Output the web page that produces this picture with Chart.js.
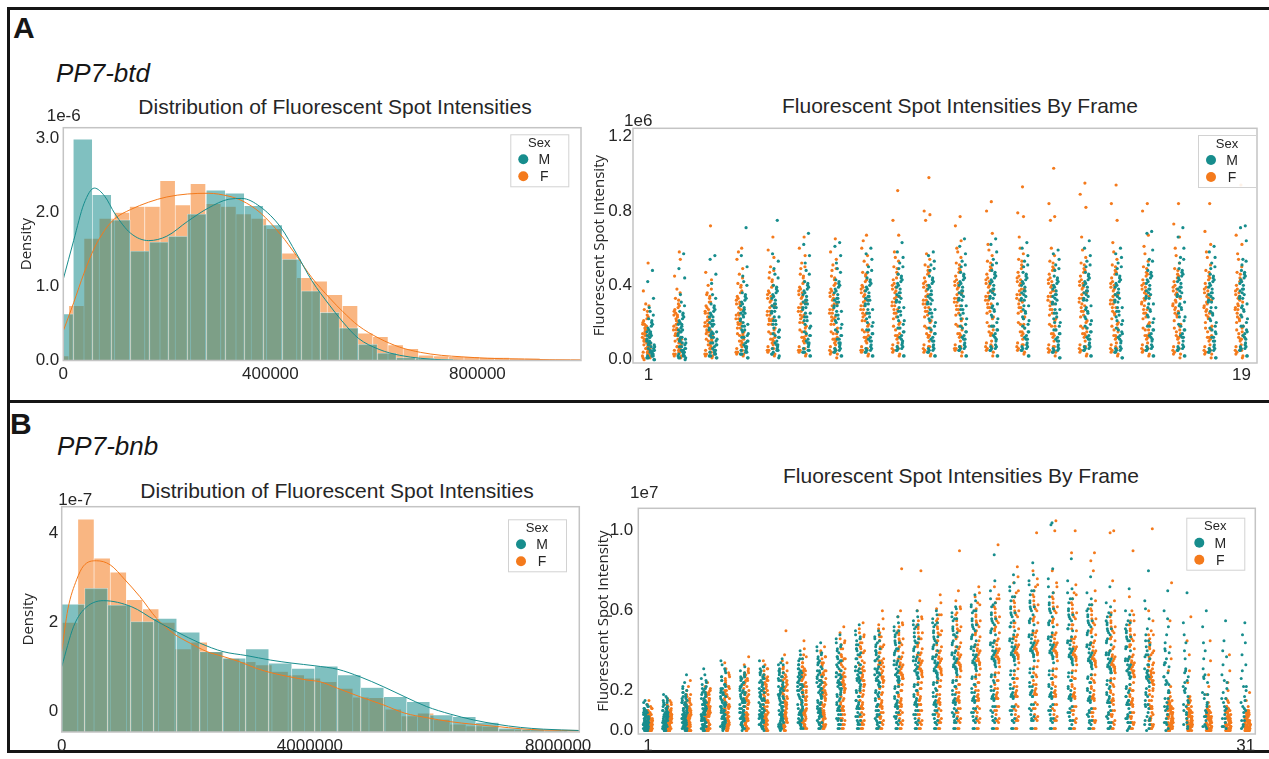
<!DOCTYPE html>
<html>
<head>
<meta charset="utf-8">
<script src="https://cdn.jsdelivr.net/npm/chart.js@4.4.1/dist/chart.umd.min.js"></script>
<style>
  html, body { margin: 0; padding: 0; background: #fff; }
  body { width: 1269px; height: 759px; position: relative; overflow: hidden; font-family: "Liberation Sans", Arial, sans-serif; color: #262626; }
  .rule { position: absolute; background: #161616; }
  .letter { position: absolute; font-weight: bold; font-size: 30px; line-height: 30px; color: #161616; }
  .gene { position: absolute; font-style: italic; font-size: 26px; line-height: 26px; color: #161616; }
  .title { position: absolute; font-size: 21px; white-space: nowrap; transform: translate(-50%, -50%); }
  canvas { position: absolute; }
</style>
</head>
<body>
<div class="rule" style="left:7px;top:7px;width:1262px;height:3px"></div>
<div class="rule" style="left:7px;top:7px;width:3px;height:746px"></div>
<div class="rule" style="left:7px;top:400px;width:1262px;height:3px"></div>
<div class="rule" style="left:7px;top:750px;width:1262px;height:3px"></div>

<div class="letter" style="left:13px;top:13px">A</div>
<div class="gene" style="left:56px;top:60px">PP7-btd</div>
<div class="letter" style="left:10px;top:409px">B</div>
<div class="gene" style="left:57px;top:433px">PP7-bnb</div>

<div class="title" style="left:335px;top:107px">Distribution of Fluorescent Spot Intensities</div>
<div class="title" style="left:960px;top:106px">Fluorescent Spot Intensities By Frame</div>
<div class="title" style="left:337px;top:491px">Distribution of Fluorescent Spot Intensities</div>
<div class="title" style="left:961px;top:476px">Fluorescent Spot Intensities By Frame</div>

<canvas id="btdHist" width="600" height="295" style="left:0;top:95px"></canvas>
<canvas id="btdStrip" width="684" height="295" style="left:585px;top:95px"></canvas>
<canvas id="bnbHist" width="600" height="285" style="left:0;top:475px"></canvas>
<canvas id="bnbStrip" width="684" height="285" style="left:585px;top:475px"></canvas>

<script>
const sexes = ['M', 'F'];
const sexColors = ['#178d8d', '#f47a1c'];
const barColors = ['rgba(23,141,141,0.55)', 'rgba(244,122,28,0.55)'];

// ---- PP7-btd histogram (density x 1e-6), separate bins per sex ----
const btdBinStartM = -17400, btdBinWidthM = 36700;
const btdDensityM = [0.63, 2.99, 2.24, 1.90, 1.48, 1.60, 1.68, 1.98, 2.30, 2.26, 2.09, 1.83, 1.37, 0.94, 0.65, 0.44, 0.22, 0.10, 0.04, 0.03, 0.02];
const btdBinStartF = -18700, btdBinWidthF = 29360;
const btdDensityF = [0.06, 0.74, 1.65, 1.92, 2.00, 2.08, 2.08, 2.43, 2.10, 2.39, 2.12, 2.08, 1.98, 1.92, 1.78, 1.45, 1.12, 1.07, 0.89, 0.74, 0.37, 0.32, 0.21, 0.16, 0.07, 0.06, 0.05, 0.05, 0.04, 0.04, 0.03, 0.03, 0.02, 0.02, 0.02];
const btdKdeX = [0, 20000, 40000, 60000, 80000, 100000, 130000, 165000, 200000, 240000, 280000, 320000, 345000, 380000, 420000, 450000, 480000, 515000, 540000, 570000, 610000, 650000, 690000, 730000, 770000, 820000, 880000, 940000, 1000000];
const btdKdeM = [1.10, 1.62, 2.12, 2.33, 2.22, 1.98, 1.72, 1.62, 1.68, 1.88, 2.06, 2.18, 2.19, 2.08, 1.80, 1.45, 1.08, 0.74, 0.52, 0.30, 0.15, 0.07, 0.03, 0.01, 0, 0, 0, 0, 0];
const btdKdeF = [0.40, 0.78, 1.18, 1.52, 1.76, 1.92, 2.04, 2.14, 2.21, 2.25, 2.26, 2.22, 2.16, 2.00, 1.70, 1.42, 1.12, 0.84, 0.66, 0.47, 0.30, 0.18, 0.11, 0.07, 0.05, 0.03, 0.02, 0.01, 0.005];
const btdHistXTicks = [0, 400000, 800000];
const btdHistYTicks = [0, 1, 2, 3];

// ---- PP7-bnb histogram (density x 1e-7, as labelled) ----
const bnbBinStartM = 0, bnbBinWidthM = 370700;
const bnbDensityM = [2.41, 2.77, 2.39, 2.02, 2.09, 1.78, 1.34, 1.19, 1.40, 1.08, 0.96, 1.01, 0.81, 0.53, 0.32, 0.21, -0.09, -0.13, -0.26, -0.39, -0.41, -0.43];
const bnbBinStartF = 0, bnbBinWidthF = 260600;
const bnbDensityF = [2.00, 4.33, 3.45, 3.13, 2.51, 2.30, 2.00, 1.40, 1.55, 1.34, 1.19, 1.11, 1.04, 0.89, 0.81, 0.74, 0.66, 0.51, 0.31, 0.30, 0.04, -0.11, -0.05, -0.19, -0.30, -0.34, -0.35, -0.41, -0.42, -0.43, -0.44, -0.44];
const bnbKdeMx = [0, 190000, 350000, 670000, 1130000, 1500000, 1850000, 2230000, 2600000, 2980000, 3360000, 3710000, 4080000, 4450000, 4810000, 5180000, 5530000, 5880000, 6260000, 6630000, 7010000, 7390000, 7760000, 8340000];
const bnbKdeM = [1.00, 1.90, 2.28, 2.49, 2.35, 2.05, 1.79, 1.53, 1.34, 1.25, 1.15, 1.08, 1.02, 0.94, 0.77, 0.55, 0.32, 0.10, -0.07, -0.20, -0.30, -0.37, -0.41, -0.44];
const bnbKdeFx = [0, 100000, 240000, 350000, 560000, 780000, 1020000, 1260000, 1530000, 1800000, 2070000, 2340000, 2600000, 2870000, 3140000, 3410000, 3680000, 3950000, 4160000, 4450000, 4810000, 5180000, 5530000, 5880000, 6260000, 6630000, 7010000, 7390000, 7760000, 8340000];
const bnbKdeF = [1.34, 2.30, 2.96, 3.27, 3.39, 3.30, 2.96, 2.58, 2.09, 1.75, 1.53, 1.34, 1.23, 1.11, 0.96, 0.85, 0.77, 0.70, 0.66, 0.51, 0.32, 0.14, -0.05, -0.15, -0.24, -0.30, -0.35, -0.40, -0.43, -0.44];
const bnbHistXTicks = [0, 4000000, 8000000];
const bnbHistYTicks = [0, 2, 4];

// ---- PP7-btd spot intensities per frame (x 1e4) ----
const btdStripF = [
  [12, 4, 27, 8, 18, 1, 52, 15, 6, 22, 10, 3, 30, 14, 7, 19, 2, 11, 37, 5, 16, 9, 24, 0, 13, 6, 20, 3, 17, 8, 9, 21, 5, 14, 2, 26, 11, 7, 18, 4, 23, 13, 1, 16, 8, 29, 6, 19, 3, 10],
  [16, 5, 33, 10, 24, 2, 58, 19, 8, 28, 13, 4, 38, 18, 9, 25, 1, 14, 45, 6, 21, 11, 30, 3, 54, 7, 26, 15, 22, 12, 11, 27, 6, 17, 3, 32, 14, 9, 23, 5, 29, 16, 2, 20, 10, 36, 7, 24, 4, 13],
  [18, 6, 35, 11, 27, 2, 72, 21, 9, 31, 14, 4, 40, 20, 8, 28, 1, 15, 47, 6, 23, 12, 33, 3, 43, 10, 25, 16, 36, 13, 13, 29, 7, 19, 3, 34, 16, 10, 25, 5, 31, 18, 2, 22, 11, 38, 8, 26, 4, 15],
  [22, 8, 41, 14, 31, 3, 60, 25, 11, 36, 17, 5, 46, 24, 10, 33, 2, 19, 54, 7, 28, 15, 39, 4, 49, 13, 30, 20, 58, 27, 17, 34, 9, 24, 4, 40, 20, 13, 30, 6, 37, 22, 3, 27, 14, 44, 10, 32, 5, 19],
  [24, 9, 44, 16, 34, 4, 66, 28, 12, 39, 19, 6, 50, 26, 11, 36, 2, 21, 59, 8, 31, 17, 42, 5, 55, 14, 33, 22, 47, 29, 19, 37, 10, 26, 5, 43, 22, 14, 32, 7, 40, 24, 3, 29, 15, 48, 11, 35, 6, 21],
  [26, 10, 46, 17, 36, 4, 66, 30, 13, 41, 20, 6, 52, 28, 12, 38, 2, 23, 60, 9, 33, 18, 44, 5, 56, 15, 35, 24, 49, 31, 20, 39, 11, 28, 5, 45, 24, 15, 34, 7, 42, 26, 3, 31, 16, 50, 12, 37, 6, 22],
  [25, 9, 45, 16, 35, 3, 65, 29, 12, 40, 19, 5, 51, 27, 11, 37, 1, 22, 58, 8, 32, 17, 43, 4, 54, 14, 34, 23, 48, 30, 19, 38, 10, 27, 5, 44, 23, 14, 33, 7, 41, 25, 3, 30, 15, 49, 11, 36, 6, 21],
  [27, 10, 47, 18, 37, 4, 67, 31, 13, 42, 21, 6, 53, 29, 12, 39, 2, 24, 60, 9, 34, 19, 45, 5, 56, 15, 36, 25, 64, 32, 21, 40, 11, 29, 5, 46, 25, 15, 35, 7, 43, 27, 3, 32, 16, 51, 12, 38, 6, 23],
  [29, 11, 50, 19, 39, 4, 91, 33, 14, 44, 22, 6, 55, 31, 13, 41, 2, 25, 75, 9, 36, 20, 47, 5, 67, 16, 38, 27, 58, 34, 23, 43, 12, 31, 6, 49, 27, 17, 37, 8, 46, 29, 3, 34, 18, 53, 13, 40, 7, 25],
  [30, 12, 51, 20, 40, 4, 98, 34, 15, 46, 23, 7, 57, 32, 13, 42, 2, 26, 80, 10, 37, 21, 48, 5, 78, 17, 39, 28, 75, 35, 24, 44, 13, 32, 6, 50, 28, 17, 38, 8, 47, 30, 3, 35, 18, 54, 14, 41, 7, 26],
  [31, 12, 52, 21, 41, 5, 77, 35, 16, 47, 24, 7, 58, 33, 14, 43, 2, 27, 72, 10, 38, 22, 49, 6, 64, 18, 40, 29, 60, 36, 25, 45, 13, 33, 6, 51, 29, 18, 39, 8, 48, 31, 4, 36, 19, 55, 14, 42, 7, 27],
  [32, 13, 53, 22, 42, 5, 85, 36, 16, 48, 25, 7, 59, 34, 14, 44, 2, 28, 80, 10, 39, 23, 50, 6, 68, 18, 41, 30, 62, 37, 26, 46, 14, 34, 7, 52, 30, 18, 40, 9, 49, 32, 4, 37, 20, 56, 15, 43, 8, 28],
  [33, 13, 54, 22, 43, 5, 93, 37, 17, 49, 25, 8, 60, 35, 15, 45, 3, 28, 79, 11, 40, 23, 51, 6, 77, 19, 42, 31, 66, 38, 26, 47, 14, 35, 7, 53, 30, 19, 41, 9, 50, 32, 4, 38, 20, 57, 15, 44, 8, 28],
  [32, 12, 53, 21, 42, 4, 103, 36, 16, 48, 24, 7, 60, 34, 14, 44, 2, 27, 84, 10, 39, 22, 50, 5, 77, 18, 41, 30, 75, 37, 25, 46, 13, 34, 6, 52, 29, 18, 40, 8, 49, 31, 4, 37, 19, 56, 14, 43, 7, 27],
  [31, 12, 52, 20, 41, 4, 95, 35, 15, 47, 23, 7, 59, 33, 14, 43, 2, 26, 89, 10, 38, 21, 49, 5, 82, 17, 40, 29, 66, 36, 24, 45, 13, 33, 6, 51, 28, 17, 39, 8, 48, 30, 3, 36, 18, 55, 14, 42, 7, 26],
  [30, 11, 51, 19, 40, 4, 94, 34, 15, 46, 22, 6, 58, 32, 13, 42, 2, 25, 84, 9, 37, 20, 48, 5, 75, 16, 39, 28, 63, 35, 24, 44, 12, 32, 6, 50, 28, 17, 38, 8, 47, 30, 3, 35, 18, 54, 13, 41, 7, 26],
  [30, 11, 50, 19, 39, 4, 84, 33, 14, 45, 22, 6, 57, 31, 13, 41, 2, 25, 80, 9, 36, 20, 47, 5, 67, 16, 38, 27, 61, 34, 23, 43, 12, 32, 6, 49, 27, 16, 37, 8, 46, 29, 3, 35, 17, 53, 13, 40, 7, 25],
  [29, 11, 49, 18, 38, 3, 84, 32, 14, 44, 21, 6, 56, 30, 12, 40, 1, 24, 73, 9, 35, 19, 46, 4, 66, 15, 37, 26, 60, 33, 23, 42, 12, 31, 5, 48, 27, 16, 36, 7, 45, 28, 3, 34, 17, 52, 13, 39, 6, 25],
  [28, 10, 48, 17, 37, 3, 84, 31, 13, 43, 20, 5, 55, 29, 12, 39, 1, 23, 69, 8, 34, 18, 45, 4, 62, 15, 36, 25, 58, 32, 22, 41, 11, 30, 5, 47, 26, 16, 35, 7, 44, 27, 3, 33, 17, 51, 12, 38, 6, 24],
  [27, 10, 47, 17, 36, 3, 94, 30, 13, 42, 20, 5, 54, 28, 11, 38, 1, 22, 67, 8, 33, 18, 44, 4, 62, 14, 35, 24, 57, 31, 21, 40, 11, 29, 5, 46, 25, 15, 34, 7, 43, 27, 2, 32, 16, 50, 12, 37, 6, 23]
];
const btdStripM = [
  [10, 3, 22, 6, 15, 1, 48, 12, 5, 18, 8, 2, 26, 11, 4, 16, 0, 9, 42, 3, 14, 7, 20, 1, 33, 5, 13, 2, 28, 8, 7, 17, 3, 12, 1, 21, 9, 5, 14, 2, 19, 10, 0, 13, 6, 24, 4, 15, 2, 8],
  [13, 4, 26, 8, 19, 1, 57, 15, 6, 22, 10, 2, 31, 14, 5, 20, 0, 12, 49, 4, 17, 9, 24, 1, 44, 7, 16, 3, 35, 11, 9, 21, 4, 15, 2, 25, 11, 6, 18, 3, 23, 12, 1, 16, 7, 29, 5, 19, 2, 10],
  [16, 5, 30, 10, 23, 2, 56, 19, 8, 26, 13, 3, 35, 17, 7, 24, 1, 14, 54, 5, 21, 11, 28, 2, 46, 9, 20, 4, 41, 15, 12, 25, 5, 18, 2, 29, 14, 8, 21, 4, 27, 15, 1, 19, 9, 33, 6, 23, 3, 12],
  [21, 7, 36, 13, 28, 3, 71, 24, 10, 32, 16, 4, 42, 22, 9, 30, 1, 18, 56, 6, 26, 14, 34, 3, 50, 12, 25, 5, 45, 19, 16, 31, 7, 23, 3, 35, 18, 10, 27, 5, 33, 20, 1, 25, 12, 40, 8, 29, 4, 15],
  [25, 8, 40, 15, 32, 3, 75, 28, 12, 36, 19, 5, 46, 26, 10, 34, 1, 21, 57, 7, 30, 16, 38, 4, 53, 13, 29, 6, 49, 23, 19, 35, 8, 26, 3, 39, 21, 12, 30, 6, 37, 23, 2, 28, 14, 44, 9, 33, 5, 17],
  [27, 9, 42, 17, 34, 4, 68, 30, 13, 38, 21, 5, 48, 28, 11, 36, 2, 23, 62, 8, 32, 18, 40, 4, 56, 14, 31, 7, 52, 25, 21, 37, 9, 28, 4, 41, 23, 13, 32, 6, 39, 25, 2, 30, 15, 46, 10, 35, 5, 19],
  [28, 9, 43, 17, 35, 4, 63, 31, 13, 39, 21, 6, 49, 29, 11, 37, 2, 24, 61, 8, 33, 19, 41, 5, 56, 15, 32, 7, 52, 26, 22, 38, 9, 29, 4, 42, 24, 13, 33, 6, 40, 26, 2, 31, 16, 47, 11, 36, 5, 20],
  [29, 10, 44, 18, 36, 4, 60, 32, 14, 40, 22, 6, 50, 30, 12, 38, 2, 25, 57, 8, 34, 20, 42, 5, 54, 16, 33, 7, 47, 27, 23, 39, 10, 30, 4, 43, 25, 14, 34, 6, 41, 27, 2, 32, 16, 48, 11, 37, 5, 20],
  [31, 11, 46, 19, 38, 5, 63, 34, 15, 42, 23, 7, 52, 32, 13, 40, 2, 26, 58, 9, 36, 21, 44, 6, 55, 17, 35, 8, 49, 28, 24, 41, 10, 31, 5, 45, 26, 15, 36, 7, 43, 28, 2, 33, 17, 50, 12, 39, 6, 21],
  [30, 10, 45, 18, 37, 4, 58, 33, 14, 41, 22, 6, 51, 31, 12, 39, 2, 25, 56, 8, 35, 20, 43, 5, 53, 16, 34, 7, 48, 27, 23, 40, 10, 30, 4, 44, 25, 14, 35, 6, 42, 27, 2, 32, 17, 49, 11, 38, 5, 21],
  [32, 11, 47, 19, 39, 5, 65, 35, 15, 43, 24, 7, 53, 33, 13, 41, 2, 27, 61, 9, 37, 22, 45, 6, 57, 17, 36, 8, 50, 29, 25, 42, 11, 32, 5, 46, 27, 15, 37, 7, 44, 29, 2, 34, 18, 51, 12, 40, 6, 22],
  [33, 12, 48, 20, 40, 5, 65, 36, 16, 44, 24, 7, 54, 34, 14, 42, 2, 27, 62, 10, 38, 22, 46, 6, 58, 18, 37, 8, 51, 30, 26, 43, 11, 33, 5, 47, 28, 16, 38, 7, 45, 29, 2, 35, 18, 52, 13, 41, 6, 23],
  [32, 11, 47, 19, 39, 5, 63, 35, 15, 43, 23, 7, 53, 33, 13, 41, 2, 26, 60, 9, 37, 21, 45, 6, 56, 17, 36, 8, 50, 29, 25, 42, 11, 32, 5, 46, 27, 15, 37, 7, 44, 29, 2, 34, 18, 51, 12, 40, 6, 22],
  [30, 10, 45, 18, 37, 4, 59, 33, 14, 41, 22, 6, 51, 31, 12, 39, 1, 25, 57, 8, 35, 20, 43, 5, 54, 16, 34, 7, 48, 27, 23, 40, 10, 30, 4, 44, 25, 14, 35, 6, 42, 27, 1, 32, 16, 49, 11, 38, 5, 20],
  [32, 11, 47, 19, 39, 5, 64, 35, 15, 43, 23, 7, 53, 33, 13, 41, 2, 26, 60, 9, 37, 21, 45, 6, 56, 17, 36, 8, 50, 29, 25, 42, 11, 32, 5, 46, 27, 15, 37, 7, 44, 28, 2, 34, 18, 51, 12, 40, 6, 22],
  [31, 11, 46, 19, 38, 4, 60, 34, 14, 42, 23, 6, 52, 32, 13, 40, 1, 26, 57, 9, 36, 21, 44, 5, 55, 16, 35, 7, 49, 28, 24, 41, 10, 31, 4, 45, 26, 15, 36, 6, 43, 28, 1, 33, 17, 50, 12, 39, 5, 21],
  [33, 12, 48, 20, 40, 5, 69, 36, 16, 44, 24, 7, 54, 34, 14, 42, 2, 27, 68, 10, 38, 22, 46, 6, 59, 18, 37, 8, 51, 30, 26, 43, 11, 33, 5, 47, 28, 16, 38, 7, 45, 30, 2, 35, 18, 53, 13, 41, 6, 23],
  [34, 12, 49, 21, 41, 5, 71, 37, 16, 45, 25, 7, 55, 35, 14, 43, 2, 28, 66, 10, 39, 23, 47, 6, 60, 18, 38, 8, 52, 31, 27, 44, 12, 34, 5, 48, 29, 16, 39, 7, 46, 30, 2, 36, 19, 54, 13, 42, 6, 23],
  [31, 10, 46, 18, 38, 4, 61, 34, 14, 42, 22, 6, 52, 32, 12, 40, 1, 25, 58, 8, 36, 20, 44, 5, 55, 16, 35, 7, 49, 28, 24, 41, 10, 31, 4, 45, 26, 15, 36, 6, 43, 28, 1, 33, 17, 50, 12, 39, 5, 21],
  [33, 12, 48, 20, 40, 5, 72, 36, 15, 44, 24, 7, 54, 34, 14, 42, 2, 27, 71, 9, 38, 22, 46, 6, 64, 18, 37, 8, 51, 30, 26, 43, 11, 33, 5, 47, 28, 16, 38, 7, 45, 29, 2, 35, 18, 53, 13, 41, 6, 23]
];
const btdFrameLabels = { 0: '1', 19: '19' };
const btdStripYTicks = [0, 400000, 800000, 1200000];

// ---- PP7-bnb spot intensities per frame (x 1e5) ----
const bnbStripM = [
  [3, 7, 1, 12, 5, 9, 2, 15, 6, 4, 10, 0, 8, 3, 13, 5, 1, 7, 11, 2, 6, 4, 9, 0, 3, 8, 14, 1, 5, 2, 10, 6, 4, 7, 1, 3, 2, 5, 0, 9, 4, 1, 7, 3, 11, 6, 0, 8, 2, 5, 12, 1, 4, 9, 3, 6, 0, 10, 2, 7],
  [4, 11, 2, 16, 7, 1, 9, 13, 5, 3, 18, 6, 0, 10, 8, 2, 12, 4, 15, 6, 1, 9, 3, 7, 14, 5, 2, 11, 0, 8, 4, 6, 10, 3, 1, 17, 3, 7, 1, 12, 5, 0, 9, 4, 14, 6, 2, 10, 3, 8, 15, 1, 5, 11, 4, 7, 0, 13, 2, 9],
  [6, 14, 2, 28, 9, 4, 18, 11, 1, 7, 22, 13, 3, 16, 5, 10, 0, 24, 8, 12, 2, 15, 6, 19, 4, 9, 1, 17, 7, 11, 3, 21, 5, 8, 14, 2, 4, 10, 1, 15, 7, 2, 12, 5, 19, 8, 3, 14, 4, 11, 20, 1, 6, 16, 5, 9, 0, 17, 3, 13],
  [8, 3, 19, 12, 31, 5, 15, 1, 22, 10, 6, 17, 2, 26, 9, 13, 4, 20, 7, 11, 0, 24, 14, 3, 18, 8, 5, 28, 11, 2, 16, 6, 21, 9, 1, 13, 5, 12, 1, 18, 8, 2, 14, 6, 23, 10, 3, 16, 5, 13, 25, 2, 7, 19, 6, 11, 0, 21, 4, 15],
  [12, 4, 27, 8, 19, 35, 2, 15, 22, 6, 10, 31, 1, 17, 13, 25, 5, 9, 20, 3, 14, 29, 7, 11, 23, 0, 16, 8, 33, 4, 18, 12, 6, 21, 2, 10, 6, 14, 2, 21, 10, 3, 17, 7, 27, 12, 4, 19, 6, 15, 30, 2, 9, 23, 7, 13, 1, 25, 5, 18],
  [9, 20, 3, 28, 14, 6, 24, 11, 32, 2, 17, 8, 26, 13, 5, 22, 1, 15, 30, 10, 4, 19, 7, 25, 12, 0, 21, 16, 3, 27, 9, 18, 6, 23, 11, 14, 6, 15, 2, 22, 10, 3, 18, 8, 27, 12, 4, 20, 6, 16, 29, 2, 9, 24, 7, 14, 1, 26, 5, 19],
  [14, 5, 29, 21, 9, 35, 2, 18, 26, 11, 7, 32, 16, 3, 23, 12, 28, 6, 19, 1, 25, 10, 15, 31, 4, 20, 8, 27, 13, 0, 22, 17, 9, 30, 6, 24, 7, 16, 2, 24, 11, 3, 19, 8, 29, 13, 4, 21, 7, 17, 32, 2, 10, 26, 8, 15, 1, 28, 5, 20],
  [18, 7, 31, 12, 25, 3, 36, 15, 22, 9, 28, 5, 19, 33, 11, 1, 24, 14, 30, 8, 20, 4, 27, 16, 10, 34, 2, 21, 13, 29, 6, 17, 23, 0, 26, 12, 8, 17, 2, 25, 12, 4, 20, 9, 30, 14, 5, 22, 7, 18, 33, 3, 10, 27, 8, 16, 1, 29, 6, 21],
  [20, 9, 33, 14, 40, 4, 27, 17, 11, 30, 6, 23, 36, 13, 2, 25, 19, 8, 31, 15, 28, 1, 21, 35, 10, 16, 24, 5, 29, 12, 38, 18, 7, 26, 22, 3, 8, 19, 3, 27, 13, 4, 22, 10, 33, 15, 5, 24, 8, 20, 36, 3, 11, 29, 9, 17, 1, 31, 6, 23],
  [24, 10, 37, 16, 30, 5, 44, 19, 27, 13, 33, 2, 22, 40, 8, 28, 17, 35, 11, 25, 1, 31, 20, 14, 38, 7, 26, 18, 34, 4, 29, 15, 21, 9, 42, 23, 9, 21, 3, 30, 14, 4, 24, 11, 36, 17, 6, 27, 9, 22, 39, 3, 12, 32, 10, 19, 1, 34, 7, 25],
  [27, 12, 41, 19, 34, 6, 48, 22, 30, 15, 37, 3, 25, 44, 10, 32, 20, 39, 13, 28, 1, 35, 23, 17, 42, 8, 29, 21, 36, 5, 31, 18, 26, 11, 46, 24, 10, 23, 3, 33, 16, 5, 27, 12, 40, 18, 6, 29, 10, 24, 43, 3, 14, 35, 11, 21, 1, 37, 8, 28],
  [30, 14, 45, 21, 38, 7, 53, 25, 33, 17, 41, 3, 28, 48, 11, 36, 22, 43, 15, 31, 1, 39, 26, 19, 46, 9, 32, 24, 40, 5, 34, 20, 29, 12, 50, 27, 11, 25, 3, 36, 17, 5, 29, 13, 43, 20, 7, 32, 11, 26, 47, 4, 15, 38, 12, 23, 1, 41, 8, 30],
  [28, 13, 43, 22, 36, 6, 50, 26, 34, 18, 40, 2, 30, 46, 10, 38, 24, 44, 16, 32, 1, 41, 27, 20, 48, 8, 35, 23, 39, 4, 31, 19, 29, 12, 47, 25, 10, 24, 3, 35, 17, 5, 28, 13, 42, 19, 7, 31, 10, 25, 45, 4, 15, 37, 12, 22, 1, 40, 8, 29],
  [33, 15, 48, 24, 41, 7, 57, 28, 37, 19, 45, 3, 31, 52, 11, 40, 26, 49, 17, 35, 1, 44, 29, 22, 54, 9, 38, 25, 43, 5, 34, 21, 30, 13, 50, 27, 12, 27, 4, 39, 19, 6, 32, 14, 47, 22, 7, 35, 12, 28, 50, 4, 16, 41, 13, 25, 1, 44, 9, 33],
  [35, 16, 51, 26, 44, 8, 60, 30, 39, 20, 47, 3, 33, 55, 12, 42, 27, 52, 18, 37, 1, 46, 31, 23, 57, 10, 40, 28, 45, 5, 36, 22, 32, 14, 53, 29, 13, 29, 4, 41, 20, 6, 34, 15, 49, 23, 8, 37, 13, 30, 53, 4, 17, 44, 14, 26, 1, 47, 10, 35],
  [36, 17, 52, 27, 45, 8, 60, 31, 40, 21, 49, 3, 34, 56, 12, 43, 28, 53, 19, 38, 1, 47, 32, 24, 58, 10, 41, 29, 46, 5, 37, 23, 33, 14, 54, 30, 13, 29, 4, 42, 20, 6, 34, 15, 50, 24, 8, 37, 13, 30, 54, 4, 17, 44, 14, 26, 1, 47, 10, 35],
  [38, 18, 55, 29, 48, 9, 62, 33, 42, 22, 51, 4, 36, 59, 13, 45, 30, 56, 20, 40, 1, 49, 34, 25, 61, 11, 43, 31, 48, 6, 39, 24, 35, 15, 57, 32, 14, 31, 4, 44, 22, 7, 36, 16, 52, 25, 8, 39, 14, 32, 56, 5, 18, 47, 15, 28, 1, 50, 10, 37],
  [41, 19, 59, 31, 51, 9, 68, 35, 45, 23, 55, 4, 38, 63, 14, 48, 32, 60, 21, 43, 1, 53, 36, 27, 65, 11, 46, 33, 52, 6, 42, 26, 37, 16, 62, 34, 15, 33, 5, 47, 23, 7, 38, 17, 56, 27, 9, 42, 15, 34, 60, 5, 19, 50, 16, 30, 1, 53, 11, 40],
  [43, 20, 62, 33, 54, 10, 88, 37, 48, 25, 58, 4, 40, 66, 15, 51, 34, 63, 22, 45, 1, 56, 38, 28, 75, 12, 49, 35, 55, 6, 44, 27, 39, 17, 70, 36, 16, 35, 5, 50, 24, 7, 40, 18, 59, 28, 9, 44, 16, 36, 64, 5, 20, 53, 17, 32, 1, 56, 12, 42],
  [45, 21, 65, 35, 57, 10, 78, 39, 50, 26, 61, 4, 42, 70, 16, 54, 36, 67, 23, 48, 1, 59, 40, 30, 74, 12, 52, 37, 58, 6, 46, 28, 41, 18, 72, 38, 17, 37, 5, 52, 26, 8, 42, 19, 62, 30, 10, 46, 17, 38, 67, 5, 21, 55, 18, 33, 1, 59, 12, 44],
  [47, 22, 68, 37, 60, 11, 84, 41, 53, 27, 64, 5, 44, 73, 17, 56, 38, 70, 24, 50, 1, 62, 42, 31, 78, 13, 55, 39, 61, 7, 48, 29, 43, 19, 75, 40, 18, 38, 5, 54, 27, 8, 44, 20, 65, 31, 10, 48, 17, 40, 70, 6, 22, 58, 19, 35, 1, 62, 13, 46],
  [46, 21, 67, 36, 59, 10, 104, 40, 52, 26, 63, 4, 43, 72, 16, 55, 37, 103, 23, 49, 1, 61, 41, 30, 81, 12, 54, 38, 60, 6, 47, 28, 42, 18, 76, 39, 17, 37, 5, 53, 26, 8, 43, 19, 64, 30, 10, 47, 17, 39, 69, 6, 22, 57, 18, 34, 1, 61, 13, 45],
  [44, 20, 64, 34, 56, 9, 86, 38, 50, 25, 60, 3, 41, 75, 15, 53, 35, 66, 22, 47, 1, 58, 39, 29, 71, 11, 51, 36, 57, 5, 45, 27, 40, 17, 69, 37, 16, 36, 5, 51, 25, 7, 41, 18, 61, 29, 9, 45, 16, 37, 66, 5, 21, 55, 17, 33, 1, 58, 12, 43],
  [42, 19, 61, 32, 53, 8, 77, 36, 47, 24, 57, 3, 39, 69, 14, 50, 33, 63, 21, 44, 1, 55, 37, 27, 66, 10, 48, 34, 54, 5, 43, 26, 38, 16, 60, 35, 15, 34, 4, 49, 24, 7, 39, 17, 58, 28, 9, 43, 15, 35, 63, 5, 20, 52, 16, 31, 1, 55, 11, 41],
  [38, 17, 57, 29, 49, 7, 72, 33, 43, 21, 53, 2, 36, 64, 12, 46, 30, 59, 19, 40, 1, 51, 34, 25, 62, 9, 44, 31, 50, 4, 39, 23, 35, 14, 55, 32, 14, 31, 4, 45, 22, 6, 36, 16, 54, 25, 8, 39, 14, 32, 58, 4, 18, 48, 15, 29, 1, 51, 10, 38],
  [35, 15, 53, 26, 45, 6, 71, 30, 40, 19, 49, 2, 33, 60, 11, 42, 27, 55, 17, 37, 0, 47, 31, 22, 58, 8, 41, 28, 46, 4, 36, 21, 32, 13, 51, 29, 13, 29, 4, 42, 20, 6, 33, 15, 50, 23, 7, 36, 13, 30, 54, 4, 17, 45, 14, 27, 1, 47, 9, 35],
  [31, 13, 48, 22, 40, 5, 80, 27, 36, 17, 45, 1, 29, 65, 9, 38, 24, 51, 15, 33, 0, 43, 28, 19, 56, 7, 37, 25, 42, 3, 30, 61, 11, 26, 3, 38, 18, 5, 30, 13, 45, 21, 6, 33, 12, 27],
  [27, 11, 44, 19, 36, 4, 70, 23, 32, 14, 41, 1, 25, 60, 8, 34, 20, 48, 12, 29, 0, 39, 24, 16, 52, 6, 33, 56, 10, 23, 3, 34, 16, 4, 27, 12, 40, 19],
  [22, 9, 40, 15, 31, 3, 69, 19, 27, 12, 48, 1, 21, 54, 6, 29, 17, 44, 10, 25, 36, 14, 8, 20, 2, 30, 13, 4, 24],
  [19, 7, 36, 13, 28, 2, 60, 16, 24, 10, 44, 1, 18, 52, 5, 26, 14, 40, 31, 9, 7, 18, 2, 27, 12, 3],
  [16, 6, 33, 11, 25, 2, 55, 14, 21, 8, 40, 1, 45, 28, 4, 19, 37, 12, 6, 16, 2, 24, 10],
  [14, 5, 30, 10, 22, 1, 54, 12, 20, 7, 38, 44, 3, 26, 17, 48, 33, 9, 5, 15, 2, 22, 11]
];
const bnbStripF = [
  [2, 6, 0, 11, 4, 8, 1, 15, 5, 3, 9, 0, 7, 2, 12, 4, 1, 6, 10, 2, 5, 3, 8, 0, 2, 7, 13, 1, 4, 1, 9, 5, 3, 6, 0, 2, 1, 4, 0, 8, 3, 1, 6, 2, 10, 5, 0, 7, 1, 4, 11, 0, 3, 8, 2, 5, 0, 9, 1, 6],
  [3, 9, 1, 14, 6, 0, 8, 12, 4, 2, 16, 5, 0, 9, 7, 1, 11, 3, 13, 5, 0, 8, 2, 6, 10, 4, 1, 10, 0, 7, 3, 5, 9, 2, 1, 15, 2, 6, 0, 10, 4, 0, 8, 3, 12, 5, 1, 9, 2, 7, 13, 0, 4, 10, 3, 6, 0, 11, 1, 8],
  [5, 12, 1, 25, 8, 3, 16, 10, 0, 6, 20, 11, 2, 14, 4, 9, 0, 22, 7, 10, 1, 13, 5, 17, 3, 8, 0, 15, 6, 9, 2, 18, 4, 7, 12, 1, 3, 8, 0, 13, 6, 1, 10, 4, 17, 7, 2, 12, 3, 9, 18, 0, 5, 14, 4, 8, 0, 15, 2, 11],
  [7, 2, 17, 11, 24, 4, 14, 0, 20, 9, 5, 15, 1, 22, 8, 12, 3, 18, 6, 10, 0, 21, 13, 2, 16, 7, 4, 19, 10, 1, 14, 5, 18, 8, 0, 12, 4, 10, 0, 15, 7, 1, 12, 5, 19, 8, 2, 13, 4, 11, 20, 1, 6, 16, 5, 9, 0, 17, 3, 12],
  [11, 3, 25, 7, 18, 34, 1, 14, 21, 5, 9, 29, 0, 16, 12, 23, 4, 8, 19, 2, 13, 27, 6, 10, 22, 0, 15, 7, 31, 3, 17, 11, 5, 20, 1, 9, 5, 13, 1, 20, 9, 2, 16, 6, 26, 11, 3, 18, 5, 14, 28, 1, 8, 22, 6, 12, 0, 24, 4, 17],
  [10, 22, 3, 30, 15, 6, 26, 12, 37, 2, 18, 8, 28, 14, 5, 24, 1, 16, 33, 11, 4, 20, 7, 27, 13, 0, 23, 17, 3, 29, 9, 19, 6, 25, 12, 15, 6, 15, 1, 23, 11, 3, 18, 8, 29, 13, 4, 21, 6, 16, 31, 2, 9, 25, 7, 14, 0, 27, 5, 19],
  [13, 4, 28, 20, 8, 35, 1, 17, 25, 10, 6, 31, 15, 2, 22, 11, 27, 5, 18, 0, 24, 9, 14, 30, 3, 19, 7, 26, 12, 0, 21, 16, 8, 33, 5, 23, 6, 15, 1, 23, 10, 3, 18, 7, 28, 12, 4, 20, 6, 16, 31, 2, 9, 25, 7, 14, 0, 27, 5, 19],
  [19, 8, 32, 13, 26, 3, 50, 16, 23, 10, 29, 5, 20, 35, 12, 1, 25, 15, 31, 9, 21, 4, 28, 17, 11, 38, 2, 22, 14, 30, 6, 18, 24, 0, 27, 13, 7, 17, 2, 25, 12, 3, 20, 9, 31, 14, 4, 22, 7, 18, 34, 2, 10, 27, 8, 16, 0, 29, 6, 21],
  [21, 9, 34, 15, 45, 4, 28, 18, 11, 31, 6, 24, 38, 14, 2, 26, 20, 8, 32, 16, 29, 1, 22, 36, 10, 17, 25, 5, 30, 13, 41, 19, 7, 27, 23, 3, 8, 19, 2, 28, 13, 4, 22, 10, 34, 15, 5, 25, 8, 20, 37, 3, 11, 30, 9, 17, 1, 32, 6, 23],
  [23, 9, 36, 15, 29, 4, 42, 18, 26, 12, 32, 2, 21, 39, 7, 27, 16, 34, 10, 24, 1, 30, 19, 13, 37, 6, 25, 17, 33, 3, 28, 14, 20, 8, 40, 22, 8, 19, 2, 28, 13, 4, 23, 10, 34, 16, 5, 25, 8, 20, 37, 3, 11, 30, 9, 18, 1, 32, 6, 24],
  [28, 12, 43, 20, 35, 6, 52, 23, 31, 15, 38, 3, 26, 46, 10, 33, 21, 41, 13, 29, 1, 36, 24, 17, 44, 8, 30, 22, 37, 5, 32, 18, 27, 11, 49, 25, 10, 23, 3, 34, 16, 5, 27, 12, 41, 19, 6, 30, 10, 24, 45, 3, 14, 36, 11, 21, 1, 38, 8, 28],
  [31, 14, 46, 22, 39, 7, 54, 26, 34, 17, 42, 3, 29, 49, 11, 37, 23, 44, 15, 32, 1, 40, 27, 19, 47, 9, 33, 25, 41, 5, 35, 20, 30, 12, 51, 28, 11, 25, 3, 37, 18, 5, 30, 13, 44, 20, 7, 33, 11, 26, 48, 4, 15, 39, 12, 23, 1, 42, 8, 31],
  [33, 15, 49, 24, 41, 7, 60, 28, 36, 18, 45, 3, 31, 53, 11, 39, 25, 47, 16, 34, 1, 43, 29, 21, 56, 9, 37, 26, 42, 5, 35, 22, 30, 13, 51, 27, 12, 27, 4, 39, 19, 6, 32, 14, 47, 22, 7, 35, 12, 28, 51, 4, 16, 42, 13, 25, 1, 45, 9, 33],
  [35, 16, 52, 26, 44, 8, 81, 30, 39, 20, 48, 3, 33, 57, 12, 42, 27, 60, 18, 37, 1, 46, 31, 23, 54, 10, 40, 28, 45, 5, 36, 22, 32, 14, 50, 29, 12, 28, 4, 41, 20, 6, 33, 15, 49, 23, 8, 36, 13, 29, 53, 4, 17, 43, 14, 26, 1, 46, 9, 34],
  [37, 17, 55, 28, 46, 8, 80, 32, 41, 21, 51, 3, 35, 60, 13, 44, 29, 65, 19, 39, 1, 49, 33, 24, 57, 10, 42, 30, 47, 5, 38, 23, 34, 15, 53, 31, 13, 30, 4, 43, 21, 6, 35, 16, 52, 24, 8, 38, 13, 31, 56, 4, 18, 46, 15, 27, 1, 49, 10, 36],
  [38, 18, 56, 29, 48, 9, 68, 33, 42, 22, 52, 4, 36, 61, 13, 45, 30, 58, 20, 40, 1, 50, 34, 25, 64, 11, 43, 31, 49, 6, 39, 24, 35, 15, 55, 32, 14, 31, 4, 45, 22, 7, 36, 16, 54, 25, 8, 40, 14, 32, 58, 5, 18, 48, 15, 28, 1, 51, 10, 37],
  [40, 19, 59, 31, 50, 9, 90, 35, 44, 23, 55, 4, 38, 65, 14, 47, 32, 70, 21, 42, 1, 52, 36, 27, 62, 11, 46, 33, 51, 6, 41, 25, 37, 16, 58, 34, 15, 33, 5, 47, 23, 7, 38, 17, 56, 27, 9, 42, 15, 34, 61, 5, 19, 50, 16, 30, 1, 53, 11, 39],
  [42, 20, 61, 33, 53, 10, 72, 37, 47, 24, 57, 4, 40, 67, 15, 50, 34, 64, 22, 45, 1, 55, 38, 28, 69, 12, 48, 35, 54, 6, 43, 26, 39, 17, 60, 36, 15, 34, 5, 49, 24, 7, 40, 18, 58, 28, 9, 43, 16, 35, 63, 5, 20, 52, 17, 31, 1, 55, 11, 41],
  [44, 21, 64, 34, 55, 10, 93, 38, 49, 25, 59, 4, 41, 72, 16, 52, 35, 66, 23, 46, 1, 57, 39, 29, 68, 12, 50, 36, 56, 6, 45, 27, 40, 18, 62, 37, 16, 36, 5, 51, 25, 8, 41, 19, 61, 29, 10, 45, 16, 37, 66, 5, 21, 54, 17, 32, 1, 57, 12, 43],
  [46, 22, 67, 36, 58, 11, 82, 40, 51, 26, 62, 5, 43, 74, 17, 54, 37, 69, 24, 48, 1, 60, 41, 30, 77, 13, 52, 38, 59, 7, 47, 28, 42, 19, 65, 39, 17, 38, 5, 54, 26, 8, 43, 20, 64, 31, 10, 47, 17, 39, 70, 6, 22, 57, 18, 34, 1, 60, 12, 45],
  [48, 23, 70, 38, 61, 11, 99, 42, 54, 28, 65, 5, 45, 80, 18, 57, 39, 72, 25, 50, 1, 63, 43, 32, 76, 14, 55, 40, 62, 7, 49, 29, 44, 20, 68, 41, 18, 39, 6, 56, 27, 8, 45, 21, 67, 32, 11, 49, 18, 41, 73, 6, 23, 60, 19, 35, 1, 63, 13, 47],
  [47, 22, 69, 37, 60, 11, 105, 41, 53, 27, 64, 5, 44, 80, 17, 56, 38, 100, 24, 49, 1, 62, 42, 31, 74, 13, 54, 39, 61, 7, 48, 28, 43, 19, 67, 40, 17, 39, 5, 55, 27, 8, 44, 20, 66, 31, 10, 48, 18, 40, 72, 6, 23, 59, 19, 35, 1, 62, 13, 46],
  [45, 21, 66, 35, 57, 10, 100, 39, 50, 26, 61, 4, 42, 89, 16, 53, 36, 69, 23, 47, 1, 59, 40, 30, 73, 12, 51, 37, 58, 6, 46, 27, 41, 18, 64, 38, 17, 37, 5, 53, 26, 8, 42, 19, 63, 30, 10, 46, 17, 38, 68, 5, 22, 56, 18, 33, 1, 59, 12, 44],
  [43, 20, 63, 33, 54, 9, 89, 37, 48, 25, 58, 4, 40, 85, 15, 51, 34, 80, 22, 45, 1, 56, 38, 28, 70, 11, 49, 35, 55, 5, 44, 26, 39, 17, 61, 36, 16, 35, 5, 50, 24, 7, 40, 18, 60, 28, 9, 44, 16, 36, 65, 5, 21, 53, 17, 32, 1, 56, 11, 42],
  [40, 18, 59, 30, 50, 8, 100, 34, 45, 23, 54, 3, 37, 99, 13, 47, 31, 75, 20, 42, 1, 52, 35, 26, 65, 10, 46, 32, 51, 5, 41, 24, 36, 15, 57, 33, 14, 32, 4, 46, 22, 7, 37, 16, 55, 26, 8, 40, 15, 33, 60, 4, 19, 49, 15, 29, 1, 52, 10, 38],
  [36, 16, 55, 27, 46, 7, 90, 31, 41, 20, 50, 3, 34, 67, 12, 43, 28, 60, 18, 38, 1, 48, 32, 23, 58, 9, 42, 29, 47, 4, 37, 21, 33, 14, 53, 30, 13, 30, 4, 43, 20, 6, 34, 15, 51, 24, 7, 37, 13, 31, 55, 4, 17, 45, 14, 27, 1, 48, 9, 35],
  [30, 12, 46, 21, 38, 5, 101, 26, 34, 15, 42, 2, 28, 60, 9, 36, 23, 50, 13, 31, 1, 40, 27, 18, 55, 7, 35, 24, 44, 3, 29, 20, 33, 11, 48, 25, 11, 25, 3, 37, 17, 5, 29, 12, 44, 20, 6, 32, 11, 26, 48, 3, 15, 39, 12, 23, 1, 41, 8, 30],
  [8, 3, 14, 1, 17, 6, 74, 11, 4, 9, 2, 15, 55, 7, 12, 0, 5, 10, 30, 3, 13, 6, 1, 16, 8, 42, 4, 11, 2, 9, 22, 7, 5, 14, 0, 36, 3, 9, 1, 13, 6, 0, 11, 4, 15, 7, 2, 10, 5, 8, 2, 12, 1, 6, 19, 4],
  [6, 2, 11, 0, 14, 4, 57, 9, 3, 7, 1, 12, 38, 5, 10, 0, 4, 8, 24, 2, 11, 5, 1, 13, 6, 30, 3, 9, 1, 7, 17, 4, 2, 10, 45, 15, 2, 7, 0, 11, 5, 1, 9, 3, 13, 6, 1, 8, 4, 7, 2, 10, 0, 5, 16, 3],
  [4, 1, 8, 0, 10, 3, 45, 6, 2, 5, 1, 9, 28, 3, 7, 0, 2, 6, 18, 1, 8, 4, 0, 10, 5, 22, 2, 6, 1, 4, 12, 3, 35, 7, 0, 9, 2, 6, 0, 9, 4, 1, 7, 3, 11, 5, 0, 8, 3, 6, 1, 10, 0, 4, 14, 2],
  [4, 1, 9, 0, 11, 3, 38, 6, 2, 5, 0, 10, 24, 3, 7, 1, 2, 8, 16, 1, 9, 4, 0, 12, 5, 20, 2, 6, 1, 4, 14, 3, 30, 7, 0, 10, 2, 6, 0, 10, 4, 1, 8, 3, 12, 5, 0, 9, 3, 7, 1, 11, 0, 4, 15, 2],
  [3, 1, 7, 0, 9, 2, 10, 5, 1, 4, 0, 8, 3, 6, 0, 2, 5, 1, 7, 1, 6, 3, 0, 9, 4, 2, 1, 5, 0, 3, 8, 2, 4, 6, 0, 7, 15, 19, 1, 5, 0, 8, 3, 0, 6, 2, 10, 4, 0, 7, 2, 5, 1, 9, 0, 3, 12, 2]
];
const bnbFrameLabels = { 0: '1', 31: '31' };
const bnbStripYTicks = [0, 2000000, 6000000, 10000000];

// ---- shared styling ----
const TEXT = '#262626';
const TICK_FONT = { family: '"Liberation Sans", Arial, sans-serif', size: 17 };
const AXIS_FONT = { family: '"Open Sans", sans-serif', size: 15 };

const setTicks = values => scale => { scale.ticks = values.map(value => ({ value })); };
const fixWidth = w => scale => { scale.width = w; };
const fixHeight = h => scale => { scale.height = h; };

function binBars(start, width, values) {
  return values.map((v, i) => ({ x: start + (i + 0.5) * width, y: v }));
}
function curve(xs, ys) {
  return xs.map((x, i) => ({ x, y: ys[i] }));
}
// points of a dodged strip plot; horizontal spread is a fixed low-discrepancy jitter
function stripPoints(frames, unit, shift, half) {
  return frames.flatMap((vals, f) => vals.map((v, i) => ({
    x: f + shift + (((i * 0.6180339887) % 1) * 2 - 1) * half,
    y: v * unit
  })));
}

// axes box, offset multiplier and the "Sex" legend
const panelFrame = {
  id: 'panelFrame',
  afterDatasetsDraw(chart, args, opts) {
    const { ctx, chartArea: a } = chart;
    ctx.save();
    ctx.strokeStyle = '#c4c4c4';
    ctx.lineWidth = 1.5;
    ctx.strokeRect(a.left, a.top, a.right - a.left, a.bottom - a.top);

    ctx.fillStyle = TEXT;
    ctx.font = '17px "Liberation Sans", Arial, sans-serif';
    ctx.textAlign = 'left';
    ctx.textBaseline = 'middle';
    ctx.fillText(opts.offsetText, a.left + opts.offsetX, a.top + opts.offsetY);

    const w = 58, h = 52;
    const x = a.right - opts.legendRight - w, y = a.top + opts.legendTop;
    ctx.fillStyle = 'rgba(255,255,255,0.9)';
    ctx.fillRect(x, y, w, h);
    ctx.strokeStyle = '#d2d2d2';
    ctx.lineWidth = 1;
    ctx.strokeRect(x + 0.5, y + 0.5, w, h);
    ctx.textAlign = 'center';
    ctx.fillStyle = TEXT;
    ctx.font = '13px "Liberation Sans", Arial, sans-serif';
    ctx.fillText('Sex', x + w / 2, y + 9);
    ctx.font = '14px "Liberation Sans", Arial, sans-serif';
    sexes.forEach((s, i) => {
      const cy = y + 25 + i * 17;
      ctx.fillStyle = sexColors[i];
      ctx.beginPath();
      ctx.arc(x + 13, cy, 5, 0, Math.PI * 2);
      ctx.fill();
      ctx.fillStyle = TEXT;
      ctx.fillText(s, x + 34, cy + 1);
    });
    ctx.restore();
  }
};

function tickOpts(padding, callback) {
  return { font: TICK_FONT, color: TEXT, padding, callback, autoSkip: false, maxRotation: 0 };
}

function histChart(id, o) {
  // each sex keeps its own bin edges, so bars overlap instead of grouping
  const barStyle = i => ({
    backgroundColor: barColors[i],
    borderColor: 'rgba(255,255,255,0.55)',
    borderWidth: { left: 0.6, right: 0.6, top: 0.6, bottom: 0 },
    barPercentage: 1,
    categoryPercentage: 1,
    grouped: false,
    base: o.yMin
  });
  const kdeStyle = i => ({
    type: 'line', xAxisID: 'x', borderColor: sexColors[i], borderWidth: 1,
    pointRadius: 0, cubicInterpolationMode: 'monotone'
  });
  return new Chart(document.getElementById(id), {
    type: 'bar',
    data: {
      datasets: [
        { ...kdeStyle(0), data: o.kdeM },
        { ...kdeStyle(1), data: o.kdeF },
        { ...barStyle(0), data: o.barsM, xAxisID: 'x' },
        { ...barStyle(1), data: o.barsF, xAxisID: 'xF' }
      ]
    },
    options: {
      responsive: false,
      animation: false,
      layout: { padding: o.padding },
      plugins: { legend: { display: false }, tooltip: { enabled: false }, panelFrame: o.frame },
      scales: {
        x: {
          type: 'linear', min: 0, max: o.xMax, offset: false,
          grid: { display: false, drawTicks: false }, border: { display: false },
          ticks: tickOpts(o.xPad, v => String(v)),
          afterBuildTicks: setTicks(o.xTicks), afterFit: fixHeight(o.xAxisH)
        },
        xF: { type: 'linear', min: 0, max: o.xMax, offset: false, display: false },
        y: {
          min: o.yMin, max: o.yMax,
          grid: { display: false, drawTicks: false }, border: { display: false },
          ticks: tickOpts(o.yPad, o.yLabel),
          afterBuildTicks: setTicks(o.yTicks), afterFit: fixWidth(o.yAxisW),
          title: { display: true, text: 'Density', font: AXIS_FONT, color: TEXT, padding: { top: o.titlePad, bottom: 0 } }
        }
      }
    },
    plugins: [panelFrame]
  });
}

function stripChart(id, o) {
  const n = o.valuesM.length;
  return new Chart(document.getElementById(id), {
    type: 'scatter',
    data: {
      datasets: [
        { label: 'M', data: stripPoints(o.valuesM, o.unit, o.shiftM, o.half), backgroundColor: sexColors[0], pointRadius: o.r, borderWidth: 0 },
        { label: 'F', data: stripPoints(o.valuesF, o.unit, o.shiftF, o.half), backgroundColor: sexColors[1], pointRadius: o.r, borderWidth: 0 }
      ]
    },
    options: {
      responsive: false,
      animation: false,
      layout: { padding: o.padding },
      plugins: { legend: { display: false }, tooltip: { enabled: false }, panelFrame: o.frame },
      scales: {
        x: {
          type: 'linear', min: -0.5, max: n - 0.5,
          grid: { display: false, drawTicks: false }, border: { display: false },
          ticks: tickOpts(o.xPad, v => o.frameLabels[v] ?? ''),
          afterBuildTicks: setTicks(Object.keys(o.frameLabels).map(Number)), afterFit: fixHeight(o.xAxisH)
        },
        y: {
          min: o.yMin, max: o.yMax,
          grid: { display: false, drawTicks: false }, border: { display: false },
          ticks: tickOpts(o.yPad, v => (v / o.yScale).toFixed(1)),
          afterBuildTicks: setTicks(o.yTicks), afterFit: fixWidth(o.yAxisW),
          title: { display: true, text: 'Fluorescent Spot Intensity', font: AXIS_FONT, color: TEXT, padding: { top: o.titlePad, bottom: 0 } }
        }
      }
    },
    plugins: [panelFrame]
  });
}

histChart('btdHist', {
  barsM: binBars(btdBinStartM, btdBinWidthM, btdDensityM),
  barsF: binBars(btdBinStartF, btdBinWidthF, btdDensityF),
  kdeM: curve(btdKdeX, btdKdeM),
  kdeF: curve(btdKdeX, btdKdeF),
  xMax: 1000000, xTicks: btdHistXTicks, xPad: 4, xAxisH: 29.5,
  yMin: 0, yMax: 3.146, yTicks: btdHistYTicks, yPad: 4, yAxisW: 63.3, titlePad: 18,
  yLabel: v => v.toFixed(1),
  padding: { top: 32.7, right: 19, left: 0, bottom: 0 },
  frame: { offsetText: '1e-6', offsetX: -16.6, offsetY: -11, legendRight: 12.7, legendTop: 6.6 }
});

histChart('bnbHist', {
  barsM: binBars(bnbBinStartM, bnbBinWidthM, bnbDensityM),
  barsF: binBars(bnbBinStartF, bnbBinWidthF, bnbDensityF),
  kdeM: curve(bnbKdeMx, bnbKdeM),
  kdeF: curve(bnbKdeFx, bnbKdeF),
  xMax: 8340000, xTicks: bnbHistXTicks, xPad: 4, xAxisH: 28,
  yMin: -0.474, yMax: 4.61, yTicks: bnbHistYTicks, yPad: 3.5, yAxisW: 61.7, titlePad: 20,
  yLabel: v => String(v),
  padding: { top: 31.7, right: 20.7, left: 0, bottom: 0 },
  frame: { offsetText: '1e-7', offsetX: -3.4, offsetY: -6, legendRight: 13.3, legendTop: 12.6 }
});

stripChart('btdStrip', {
  valuesM: btdStripM, valuesF: btdStripF, unit: 1e4, shiftM: 0.07, shiftF: -0.07, half: 0.13, r: 1.6,
  frameLabels: btdFrameLabels, xPad: 2, xAxisH: 27,
  yMin: -18000, yMax: 1245000, yTicks: btdStripYTicks, yScale: 1e6, yPad: 1, yAxisW: 48, titlePad: 6,
  padding: { top: 33.3, right: 12, left: 0, bottom: 0 },
  frame: { offsetText: '1e6', offsetX: -9, offsetY: -6.6, legendRight: 1, legendTop: 6.7 }
});

stripChart('bnbStrip', {
  valuesM: bnbStripM, valuesF: bnbStripF, unit: 1e5, shiftM: -0.1, shiftF: 0.1, half: 0.14, r: 1.5,
  frameLabels: bnbFrameLabels, xPad: 2, xAxisH: 26,
  yMin: -170000, yMax: 11120000, yTicks: bnbStripYTicks, yScale: 1e7, yPad: 5, yAxisW: 53.3, titlePad: 10,
  padding: { top: 33.3, right: 13.7, left: 0, bottom: 0 },
  frame: { offsetText: '1e7', offsetX: -8.3, offsetY: -15, legendRight: 11, legendTop: 9.4 }
});
</script>
</body>
</html>
